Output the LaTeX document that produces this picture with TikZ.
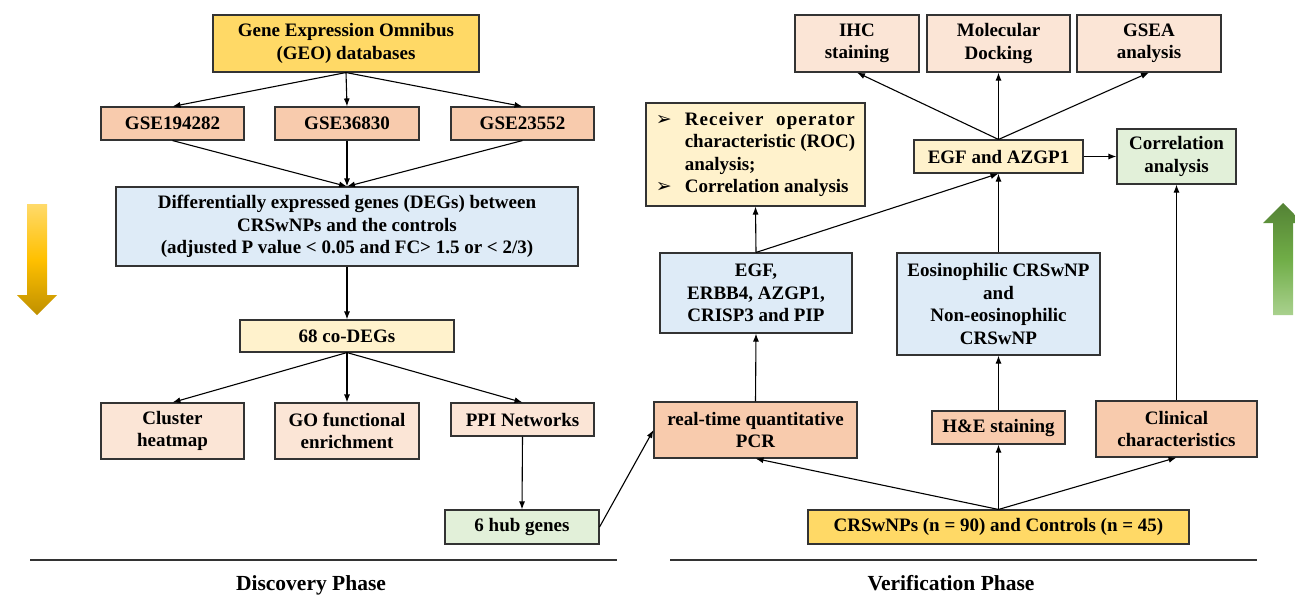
\documentclass[tikz,border=0pt]{standalone}
\usepackage{fontspec}
\setmainfont{Liberation Serif}
\newfontfamily\dejavu{DejaVu Sans}
\usetikzlibrary{arrows.meta}
\definecolor{cgold}{HTML}{FFD966}
\definecolor{cpeach}{HTML}{F8CBAD}
\definecolor{clpeach}{HTML}{FBE5D6}
\definecolor{cly}{HTML}{FFF2CC}
\definecolor{cblue}{HTML}{DEEBF7}
\definecolor{cgreen}{HTML}{E2F0D9}
\definecolor{gTop}{HTML}{FFDA6A}
\definecolor{gMid}{HTML}{FFC000}
\definecolor{gBot}{HTML}{BF9000}
\definecolor{grTop}{HTML}{548235}
\definecolor{grMid}{HTML}{70AD47}
\definecolor{grBot}{HTML}{A9D18E}
\newcommand{\rocbullet}{\makebox[29pt][l]{\dejavu\bfseries\fontsize{19}{22.5}\selectfont ➢}}
\begin{document}
\begin{tikzpicture}[x=1pt,y=-1pt,
  box/.style={draw=black!80, line width=1.1pt, align=center, inner sep=2pt,
    font=\fontsize{19}{22.5}\selectfont\bfseries},
  wh/.style 2 args={minimum width=#1pt, minimum height=#2pt},
  arr/.style={line width=1.1pt, -{Latex[length=8pt,width=6pt]}},
  rule/.style={line width=1.2pt, draw=black!80},
  phase/.style={font=\fontsize{21.5}{24}\selectfont\bfseries, anchor=base, inner sep=0pt}]
\useasboundingbox (0,0) rectangle (1295,594);
\clip (0,0) rectangle (1295,594);

% ---------- Discovery phase ----------
\node[box, fill=cgold, wh={266}{57}] (geo) at (346,43.5) {Gene Expression Omnibus\\(GEO) databases};
\node[box, fill=cpeach, wh={143}{33}] (gse1) at (172.5,123.5) {GSE194282};
\node[box, fill=cpeach, wh={144}{33}] (gse2) at (347,123.5) {GSE36830};
\node[box, fill=cpeach, wh={143}{33}] (gse3) at (522.5,123.5) {GSE23552};
\node[box, fill=cblue, wh={462}{79}] (deg) at (347,226.5) {Differentially expressed genes (DEGs) between\\CRSwNPs and the controls\\(adjusted P value < 0.05 and FC> 1.5 or < 2/3)};
\node[box, fill=cly, wh={214}{32}] (co) at (347,336) {68 co-DEGs};
\node[box, fill=clpeach, wh={143}{56}] (clu) at (172.5,431) {Cluster\\heatmap};
\node[box, fill=clpeach, wh={144}{56}] (go) at (347,431) {GO functional\\enrichment};
\node[box, fill=clpeach, wh={143}{33}] (ppi) at (522.5,419.5) {PPI Networks};
\node[box, fill=cgreen, wh={154}{34}] (hub) at (522,527) {6 hub genes};

\draw[arr] (geo.south) -- (gse1.north);
\draw[arr] (geo.south) -- (gse2.north);
\draw[arr] (geo.south) -- (gse3.north);
\draw[arr] (gse1.south) -- (deg.north);
\draw[arr] (gse2.south) -- (deg.north);
\draw[arr] (gse3.south) -- (deg.north);
\draw[arr] (deg.south) -- (co.north);
\draw[arr] (co.south) -- (clu.north);
\draw[arr] (co.south) -- (go.north);
\draw[arr] (co.south) -- (ppi.north);
\draw[arr] (ppi.south) -- (hub.north);

% ---------- Verification phase ----------
\node[box, fill=clpeach, wh={124}{57}] (ihc) at (857,43.5) {IHC\\staining};
\node[box, fill=clpeach, wh={143}{57}] (mol) at (998.5,43.5) {Molecular\\Docking};
\node[box, fill=clpeach, wh={144}{57}] (gsea) at (1149,43.5) {GSEA\\analysis};
\node[box, fill=cly, wh={219}{103}, align=left] (roc) at (755.5,154.5)
  {\rocbullet\makebox[170pt][s]{\addfontfeature{LetterSpace=6}Receiver operator}\\
   \hspace*{29pt}characteristic (ROC)\\
   \hspace*{29pt}analysis;\\
   \rocbullet Correlation analysis};
\node[box, fill=cly, wh={169}{33}] (egfaz) at (998.5,156.5) {EGF and AZGP1};
\node[box, fill=cgreen, wh={119}{55}] (corr) at (1176.5,156.5) {Correlation\\analysis};
\node[box, fill=cblue, wh={192}{80}] (egf5) at (756,293) {EGF,\\ERBB4, AZGP1,\\CRISP3 and PIP};
\node[box, fill=cblue, wh={203}{102}] (eos) at (998.5,304) {Eosinophilic CRSwNP\\and\\Non-eosinophilic\\CRSwNP};
\node[box, fill=cpeach, wh={203}{56}] (pcr) at (755.5,430) {real-time quantitative\\PCR};
\node[box, fill=cpeach, wh={133}{33}] (he) at (998.5,427.5) {H\&E staining};
\node[box, fill=cpeach, wh={161}{56}] (clin) at (1176.5,429) {Clinical\\characteristics};
\node[box, fill=cgold, wh={381}{34}] (crs) at (998.5,527) {CRSwNPs (n = 90) and Controls (n = 45)};

\draw[arr] (hub.east) -- (pcr.west);
\draw[arr] (crs.north) -- (pcr.south);
\draw[arr] (crs.north) -- (he.south);
\draw[arr] (crs.north) -- (clin.south);
\draw[arr] (pcr.north) -- (egf5.south);
\draw[arr] (he.north) -- (eos.south);
\draw[arr] (clin.north) -- (corr.south);
\draw[arr] (egf5.north) -- (roc.south);
\draw[arr] (egf5.north) -- (egfaz.south);
\draw[arr] (eos.north) -- (egfaz.south);
\draw[arr] (egfaz.east) -- (corr.west);
\draw[arr] (egfaz.north) -- (ihc.south);
\draw[arr] (egfaz.north) -- (mol.south);
\draw[arr] (egfaz.north) -- (gsea.south);

% ---------- phase rules and labels ----------
\coordinate (l1) at (30,560);
\coordinate (l2) at (617,560);
\coordinate (r1) at (670,560);
\coordinate (r2) at (1257,560);
\draw[rule] (l1) -- (l2);
\draw[rule] (r1) -- (r2);
\node[phase] (dp) at (311,590) {Discovery Phase};
\node[phase] (vp) at (951,590) {Verification Phase};

% ---------- gradient arrows ----------
\shade[top color=gTop, bottom color=gBot, middle color=gMid]
  (27,204) -- (47,204) -- (47,295) -- (57,295) -- (37,315) -- (17,295) -- (27,295) -- cycle;
\shade[top color=grTop, bottom color=grBot, middle color=grMid]
  (1283,203) -- (1303,223) -- (1293,223) -- (1293,315) -- (1273,315) -- (1273,223) -- (1263,223) -- cycle;
\end{tikzpicture}
\end{document}
